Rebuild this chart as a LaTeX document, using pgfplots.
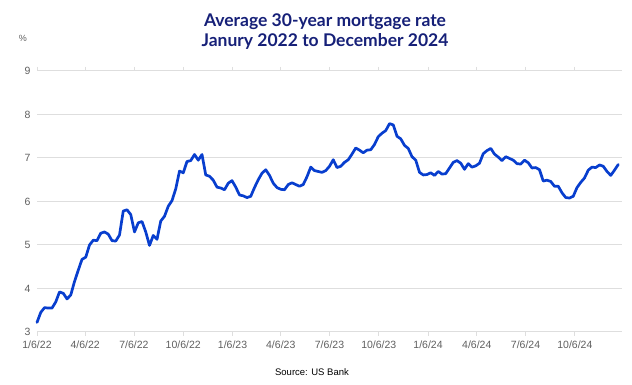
\documentclass[border=0pt]{standalone}
\usepackage{pgfplots}
\pgfplotsset{compat=1.18}
\usepackage{fontspec}
\setmainfont{Liberation Sans}
\newfontfamily\titlefont{Lato}
\definecolor{linecol}{RGB}{8,62,206}
\definecolor{titlecol}{RGB}{22,32,120}
\definecolor{tickcol}{RGB}{95,95,95}
\definecolor{gridcol}{RGB}{222,222,222}
\begin{document}
\begin{tikzpicture}[x=1pt,y=1pt]
\useasboundingbox (0,0) rectangle (632,385);
\begin{axis}[
  at={(37pt,53pt)}, anchor=south west,
  scale only axis, width=585pt, height=261pt,
  xmin=0, xmax=1092, ymin=3, ymax=9,
  ytick={3,4,5,6,7,8,9},
  xtick={0,90,181,273,365,455,546,638,730,821,912,1004},
  xticklabels={1/6/22,4/6/22,7/6/22,10/6/22,1/6/23,4/6/23,7/6/23,10/6/23,1/6/24,4/6/24,7/6/24,10/6/24},
  axis line style={draw=none},
  ymajorgrids, grid style={gridcol, line width=1pt},
  x tick style={draw=gridcol, line width=0.8pt},
  xtick align=outside, major tick length=4pt,
  y tick style={draw=none},
  tick label style={font=\fontsize{10.5}{12}\selectfont, text=tickcol},
  /pgf/number format/assume math mode=true,
  xticklabel style={yshift=-1pt},
  yticklabel style={xshift=-3pt},
  clip=false,
]
\addplot[gridcol, line width=1pt, forget plot] coordinates {(0,3) (1092,3)};
\addplot[linecol, line width=2.7pt, line join=round, line cap=round] coordinates {
(0,3.22) (7,3.45) (14,3.56) (21,3.55) (28,3.55) (35,3.69) (42,3.92) (49,3.89) (56,3.76) (63,3.85) (70,4.16) (77,4.42) (84,4.67) (91,4.72) (98,5.00) (105,5.11) (112,5.10) (119,5.27) (126,5.30) (133,5.25) (140,5.10) (147,5.09) (154,5.23) (161,5.78) (168,5.81) (175,5.70) (182,5.30) (189,5.51) (196,5.54) (203,5.30) (210,4.99) (217,5.22) (224,5.13) (231,5.55) (238,5.66) (245,5.89) (252,6.02) (259,6.29) (266,6.70) (273,6.66) (280,6.92) (287,6.94) (294,7.08) (301,6.95) (308,7.08) (315,6.61) (322,6.58) (329,6.49) (336,6.33) (343,6.31) (350,6.27) (357,6.42)
(364,6.48) (371,6.33) (378,6.15) (385,6.13) (392,6.09) (399,6.12) (406,6.32) (413,6.50) (420,6.65) (427,6.73) (434,6.60) (441,6.42) (448,6.32) (455,6.28) (462,6.27) (469,6.39) (476,6.43) (483,6.39) (490,6.35) (497,6.39) (504,6.57) (511,6.79) (518,6.71) (525,6.69) (532,6.67) (539,6.71) (546,6.81) (553,6.96) (560,6.78) (567,6.81) (574,6.90) (581,6.96) (588,7.09) (595,7.23) (602,7.18) (609,7.12) (616,7.18) (623,7.19) (630,7.31) (637,7.49) (644,7.57) (651,7.63) (658,7.79) (665,7.76) (672,7.50) (679,7.44) (686,7.29) (693,7.22) (700,7.03) (707,6.95) (714,6.67) (721,6.61)
(728,6.62) (735,6.66) (742,6.60) (749,6.69) (756,6.63) (763,6.64) (770,6.77) (777,6.90) (784,6.94) (791,6.88) (798,6.74) (805,6.87) (812,6.79) (819,6.82) (826,6.88) (833,7.10) (840,7.17) (847,7.22) (854,7.09) (861,7.02) (868,6.94) (875,7.03) (882,6.99) (889,6.95) (896,6.87) (903,6.86) (910,6.95) (917,6.89) (924,6.77) (931,6.78) (938,6.73) (945,6.47) (952,6.49) (959,6.46) (966,6.35) (973,6.35) (980,6.20) (987,6.09) (994,6.08) (1001,6.12) (1008,6.32) (1015,6.44) (1022,6.54) (1029,6.72) (1036,6.79) (1043,6.78) (1050,6.84) (1057,6.81) (1064,6.69) (1071,6.60) (1078,6.72) (1085,6.85)
};
\end{axis}
\node[font=\titlefont\bfseries\fontsize{17.5}{20}\selectfont, text=titlecol, align=center] at (325,353) {Average 30-year mortgage rate\\Janury 2022 to December 2024};
\node[font=\fontsize{9}{10}\selectfont, text=tickcol] at (23,347) {\%};
\node[font=\fontsize{9.5}{11}\selectfont, text=black] at (312,13) {Source: US Bank};
\end{tikzpicture}
\end{document}
